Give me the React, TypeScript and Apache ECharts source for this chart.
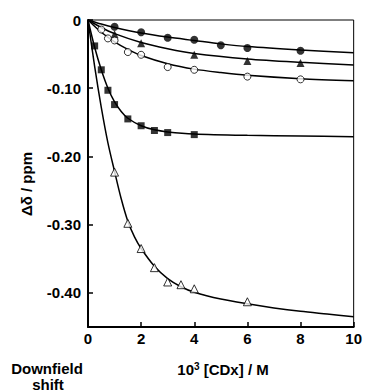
import React, { useEffect, useRef } from "react";
import * as echarts from "echarts";

const xTicks = [0, 2, 4, 6, 8, 10];
const yTicks = [0, -0.1, -0.2, -0.3, -0.4];

// measured points [x, y]
const filledCircles = [[1, -0.010], [2, -0.018], [3, -0.026], [4, -0.029], [5, -0.037], [6, -0.041], [8, -0.045]];
const filledTriangles = [[1, -0.021], [2, -0.034], [4, -0.051], [6, -0.060], [8, -0.063]];
const openCircles = [[0.5, -0.014], [0.75, -0.027], [1, -0.030], [1.5, -0.047], [2, -0.051], [3, -0.069], [4, -0.073], [6, -0.083], [8, -0.087]];
const filledSquares = [[0.25, -0.038], [0.5, -0.073], [0.75, -0.103], [1, -0.124], [1.5, -0.145], [2, -0.155], [2.5, -0.162], [3, -0.165], [4, -0.168]];
const openTriangles = [[1, -0.223], [1.5, -0.298], [2, -0.335], [2.5, -0.363], [3, -0.384], [3.5, -0.388], [4, -0.394], [6, -0.413]];

// fitted curves
const curveCircles = [[0, 0], [0.5, -0.006], [1, -0.011], [2, -0.019], [3, -0.025], [4, -0.030], [5, -0.035], [6, -0.039], [8, -0.044], [10, -0.048]];
const curveTriangles = [[0, 0], [0.5, -0.011], [1, -0.020], [2, -0.033], [3, -0.042], [4, -0.049], [6, -0.057], [8, -0.062], [10, -0.066]];
const curveOpenCircles = [[0, 0], [0.5, -0.018], [1, -0.032], [1.5, -0.043], [2, -0.052], [3, -0.064], [4, -0.072], [5, -0.077], [6, -0.081], [8, -0.086], [10, -0.089]];
const curveSquares = [[0, 0], [0.25, -0.040], [0.5, -0.073], [0.75, -0.100], [1, -0.120], [1.25, -0.134], [1.5, -0.144], [2, -0.155], [2.5, -0.161], [3, -0.164], [4, -0.167], [6, -0.169], [8, -0.170], [10, -0.171]];
const curveOpenTriangles = [[0, 0], [0.25, -0.068], [0.5, -0.128], [0.75, -0.180], [1, -0.222], [1.25, -0.262], [1.5, -0.295], [1.75, -0.318], [2, -0.335], [2.5, -0.361], [3, -0.379], [3.5, -0.391], [4, -0.399], [5, -0.409], [6, -0.416], [7, -0.422], [8, -0.427], [9, -0.431], [10, -0.435]];

const FONT = "Liberation Sans, Arial, sans-serif";

export default function App() {
  const ref = useRef<HTMLDivElement>(null);
  useEffect(() => {
    document.body.style.margin = "0";
    if (!ref.current) return;
    const chart = echarts.init(ref.current, null, { renderer: "svg" });
    const curve = (data: number[][]) => ({
      type: "line",
      data,
      smooth: 0.3,
      showSymbol: false,
      symbol: "none",
      lineStyle: { color: "#000", width: 1.5 },
      z: 2,
    });
    const pts = (data: number[][], symbol: string, size: number, filled: boolean) => ({
      type: "scatter",
      data,
      symbol,
      symbolSize: size,
      itemStyle: filled
        ? { color: "#000" }
        : { color: "#fff", borderColor: "#000", borderWidth: 1 },
      z: 3,
    });
    chart.setOption({
      animation: false,
      grid: {
        left: 88,
        right: 11,
        top: 20,
        bottom: 65,
        show: true,
        borderColor: "#000",
        borderWidth: 1,
      },
      xAxis: {
        type: "value",
        min: 0,
        max: 10,
        interval: 2,
        axisLine: { show: true, onZero: false, lineStyle: { color: "#000", width: 2 } },
        axisTick: { show: true, inside: true, length: 5, lineStyle: { color: "#000", width: 1.5 } },
        splitLine: { show: false },
        axisLabel: {
          color: "#000",
          fontFamily: FONT,
          fontWeight: "bold",
          fontSize: 15,
          margin: 4,
          formatter: (v: number) => (xTicks.includes(v) ? String(v) : ""),
        },
      },
      yAxis: {
        type: "value",
        min: -0.45,
        max: 0,
        axisLine: { show: true, onZero: false, lineStyle: { color: "#000", width: 2 } },
        axisTick: {
          show: true,
          inside: true,
          length: 5,
          lineStyle: { color: "#000", width: 1.5 },
          customValues: yTicks,
        },
        splitLine: { show: false },
        axisLabel: {
          color: "#000",
          fontFamily: FONT,
          fontWeight: "bold",
          fontSize: 15,
          margin: 7,
          customValues: yTicks,
          formatter: (v: number) => (Math.abs(v) < 1e-9 ? "0" : v.toFixed(2)),
        },
      },
      graphic: [
        {
          type: "text",
          x: 26,
          y: 184,
          rotation: Math.PI / 2,
          style: {
            text: "Δδ / ppm",
            fontFamily: FONT,
            fontWeight: "bold",
            fontSize: 15,
            fill: "#000",
            align: "center",
            verticalAlign: "middle",
          },
        },
        {
          type: "text",
          x: 223,
          y: 369,
          style: {
            text: "{n|10}{s|3}{n| [CDx] / M}",
            rich: {
              n: { fontFamily: FONT, fontWeight: "bold", fontSize: 15, fill: "#000" },
              s: { fontFamily: FONT, fontWeight: "bold", fontSize: 10, fill: "#000", verticalAlign: "top", padding: [0, 0, 6, 0] },
            },
            align: "center",
            verticalAlign: "middle",
          },
        },
        {
          type: "text",
          x: 47,
          y: 368,
          style: {
            text: "Downfield",
            fontFamily: FONT,
            fontWeight: "bold",
            fontSize: 15,
            fill: "#000",
            align: "center",
            verticalAlign: "middle",
          },
        },
        {
          type: "text",
          x: 48,
          y: 384,
          style: {
            text: "shift",
            fontFamily: FONT,
            fontWeight: "bold",
            fontSize: 15,
            fill: "#000",
            align: "center",
            verticalAlign: "middle",
          },
        },
      ],
      series: [
        curve(curveCircles),
        curve(curveTriangles),
        curve(curveOpenCircles),
        curve(curveSquares),
        curve(curveOpenTriangles),
        pts(filledCircles, "circle", 8, true),
        pts(filledTriangles, "triangle", 8, true),
        pts(openCircles, "circle", 7, false),
        pts(filledSquares, "rect", 7, true),
        pts(openTriangles, "triangle", 8, false),
      ],
    });
    return () => chart.dispose();
  }, []);
  return <div ref={ref} style={{ width: 365, height: 392 }} />;
}
